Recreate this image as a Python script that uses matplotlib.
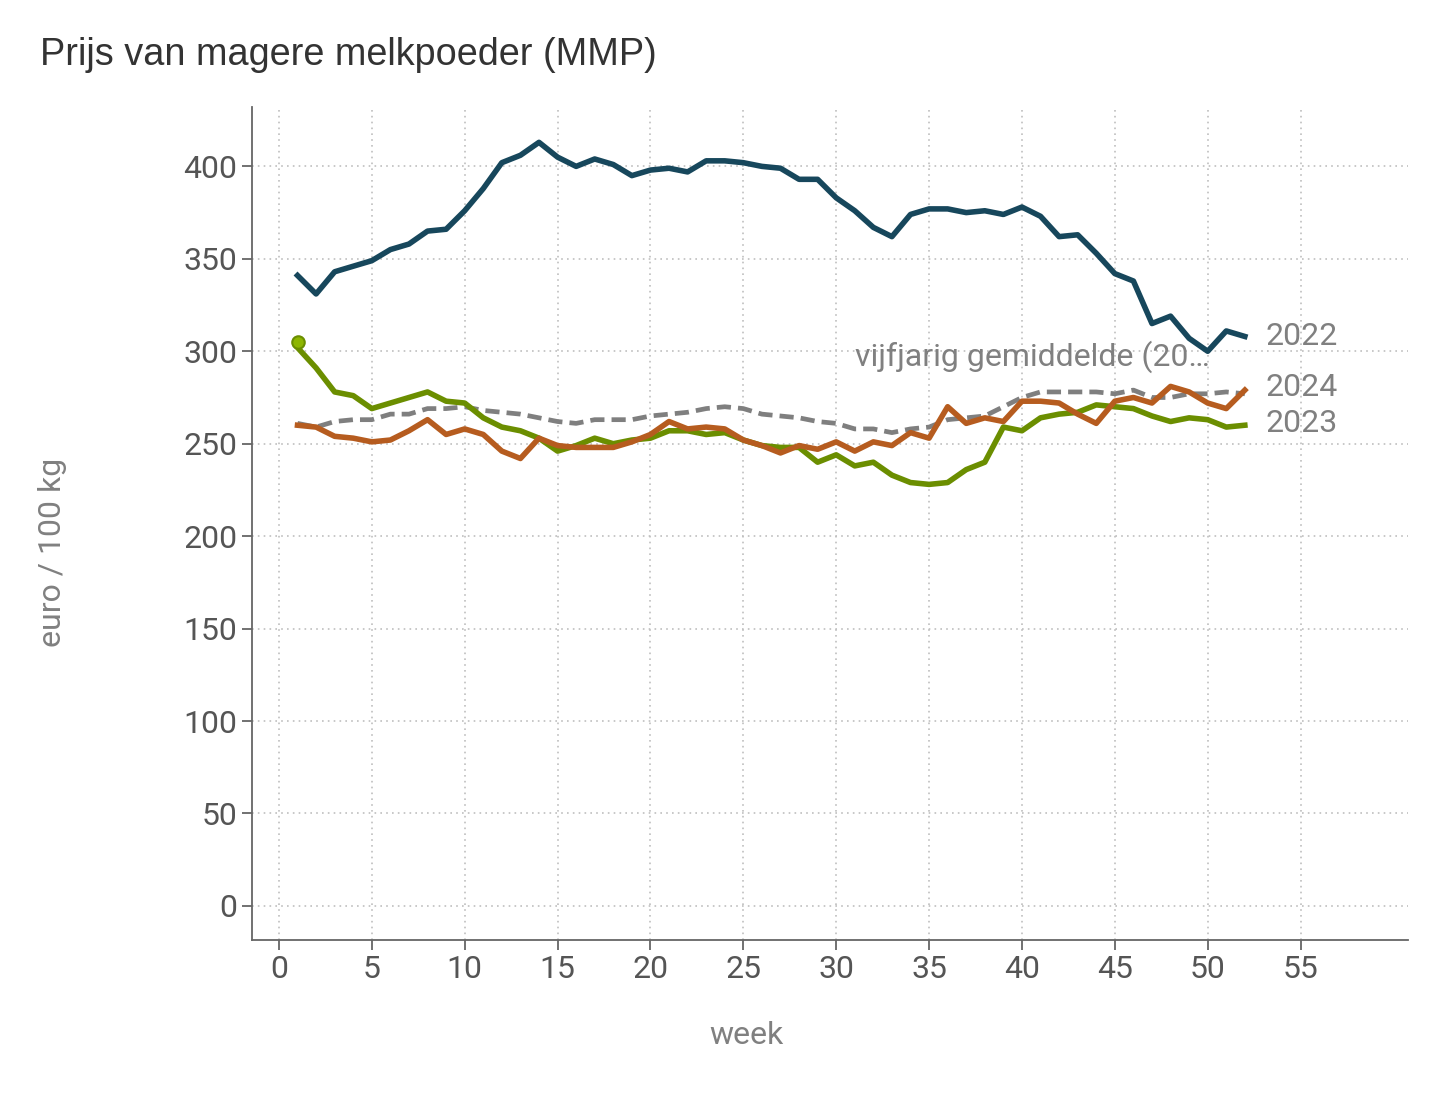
import numpy as np
import matplotlib
matplotlib.use("Agg")
import matplotlib.pyplot as plt

weeks = list(range(1, 53))

prijs_2022 = [341, 331, 343, 346, 349, 355, 358, 365, 366, 376,
              388, 402, 406, 413, 405, 400, 404, 401, 395, 398,
              399, 397, 403, 403, 402, 400, 399, 393, 393, 383,
              376, 367, 362, 374, 377, 377, 375, 376, 374, 378,
              373, 362, 363, 353, 342, 338, 315, 319, 307, 300,
              311, 308]

prijs_2023 = [302, 291, 278, 276, 269, 272, 275, 278, 273, 272,
              264, 259, 257, 253, 246, 249, 253, 250, 252, 253,
              257, 257, 255, 256, 252, 249, 248, 248, 240, 244,
              238, 240, 233, 229, 228, 229, 236, 240, 259, 257,
              264, 266, 267, 271, 270, 269, 265, 262, 264, 263,
              259, 260]

prijs_2024 = [260, 259, 254, 253, 251, 252, 257, 263, 255, 258,
              255, 246, 242, 253, 249, 248, 248, 248, 251, 255,
              262, 258, 259, 258, 252, 249, 245, 249, 247, 251,
              246, 251, 249, 256, 253, 270, 261, 264, 262, 273,
              273, 272, 266, 261, 273, 275, 272, 281, 278, 272,
              269, 279]

gemiddelde = [261, 259, 262, 263, 263, 266, 266, 269, 269, 270,
              268, 267, 266, 264, 262, 261, 263, 263, 263, 265,
              266, 267, 269, 270, 269, 266, 265, 264, 262, 261,
              258, 258, 256, 258, 259, 263, 264, 265, 270, 275,
              278, 278, 278, 278, 277, 279, 275, 275, 277, 277,
              278, 277]

start_2023 = 305

x_ticks = [0, 5, 10, 15, 20, 25, 30, 35, 40, 45, 50, 55]
y_ticks = [0, 50, 100, 150, 200, 250, 300, 350, 400]

c_2022 = "#17475c"
c_2023 = "#6b8e00"
c_2024 = "#b65c1f"
c_avg = "#7f7f7f"
c_text = "#808080"
c_axis = "#666666"

plt.rcParams["font.family"] = ["Roboto", "DejaVu Sans"]

fig = plt.figure(figsize=(14.4, 10.94), dpi=100)
ax = fig.add_axes([0.175, 0.1408, 0.803, 0.7612])

ax.plot(weeks, gemiddelde, color=c_avg, lw=3.4, dashes=(3.0, 1.5), zorder=3)
ax.plot(weeks, prijs_2023, color=c_2023, lw=4, zorder=4)
ax.plot(weeks, prijs_2024, color=c_2024, lw=4, zorder=5)
ax.plot(weeks, prijs_2022, color=c_2022, lw=4, zorder=6)
ax.plot([weeks[0]], [start_2023], marker="o", ms=9, mfc="#8db600",
        mec=c_2023, mew=1.5, zorder=7)

ax.set_xlim(-1.45, 60.8)
ax.set_ylim(-18.4, 432)
ax.set_xticks(x_ticks)
ax.set_yticks(y_ticks)
ax.grid(True, color="#bfbfbf", linestyle=(0, (1, 2.5)), lw=1.2)
ax.set_axisbelow(True)

for s in ["top", "right"]:
    ax.spines[s].set_visible(False)
for s in ["left", "bottom"]:
    ax.spines[s].set_color(c_axis)
    ax.spines[s].set_linewidth(1.3)
ax.tick_params(colors=c_axis, labelcolor="#555555", labelsize=23,
               length=7, width=1.3)

ax.set_xlabel("week", color=c_text, fontsize=23)
ax.xaxis.set_label_coords(0.428, -0.097)
ax.set_ylabel("euro / 100 kg", color=c_text, fontsize=23)
ax.yaxis.set_label_coords(-0.16, 0.466)

lbl = dict(color=c_text, fontsize=23, va="center", ha="left")
ax.text(53.1, prijs_2022[-1], "2022", **lbl)
ax.text(53.1, 280.5, "2024", **lbl)
ax.text(53.1, 261, "2023", **lbl)
ax.text(31, 297, "vijfjarig gemiddelde (20…", color=c_text, fontsize=23,
        va="center", ha="left")

fig.text(0.028, 0.950, "Prijs van magere melkpoeder (MMP)", color="#333333",
         fontsize=27.3, family=["Liberation Sans", "DejaVu Sans"], va="center")

fig.savefig("out.png", dpi=100, facecolor="white")
